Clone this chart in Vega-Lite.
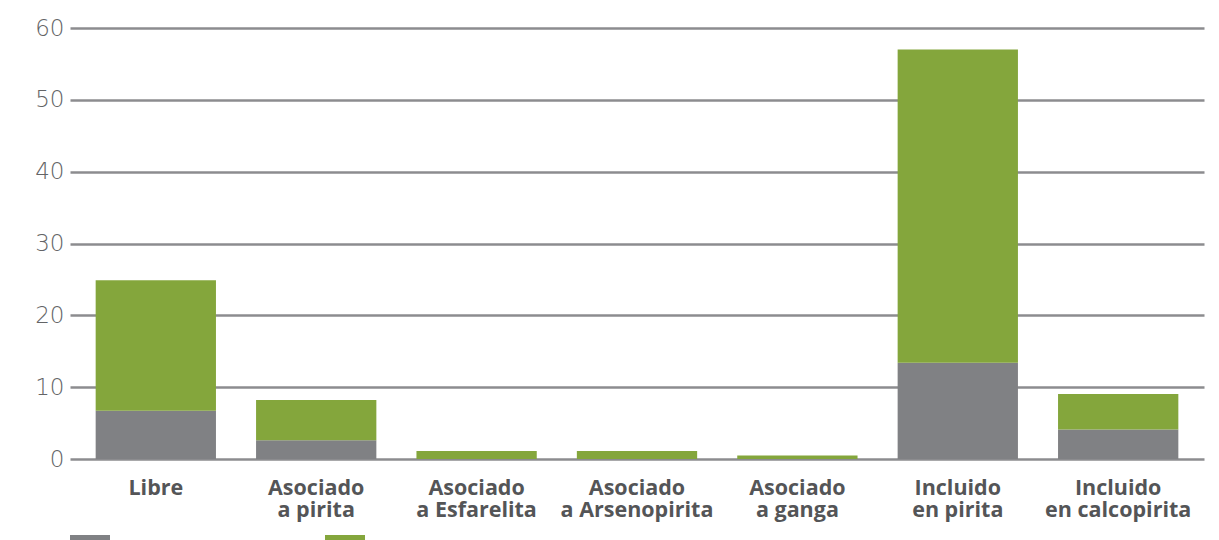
{
  "$schema": "https://vega.github.io/schema/vega-lite/v6.json",
  "autosize": "none",
  "width": 1134,
  "height": 431,
  "padding": {"left": 70, "top": 28, "right": 15, "bottom": 81},
  "background": "white",
  "data": {
    "values": [
      {"categoria": "Libre", "serie": "Serie 1", "valor": 6.7},
      {"categoria": "Libre", "serie": "Serie 2", "valor": 18.2},
      {"categoria": "Asociado a pirita", "serie": "Serie 1", "valor": 2.6},
      {"categoria": "Asociado a pirita", "serie": "Serie 2", "valor": 5.6},
      {"categoria": "Asociado a Esfarelita", "serie": "Serie 1", "valor": 0},
      {"categoria": "Asociado a Esfarelita", "serie": "Serie 2", "valor": 1.1},
      {"categoria": "Asociado a Arsenopirita", "serie": "Serie 1", "valor": 0},
      {"categoria": "Asociado a Arsenopirita", "serie": "Serie 2", "valor": 1.1},
      {"categoria": "Asociado a ganga", "serie": "Serie 1", "valor": 0},
      {"categoria": "Asociado a ganga", "serie": "Serie 2", "valor": 0.5},
      {"categoria": "Incluido en pirita", "serie": "Serie 1", "valor": 13.4},
      {"categoria": "Incluido en pirita", "serie": "Serie 2", "valor": 43.6},
      {"categoria": "Incluido en calcopirita", "serie": "Serie 1", "valor": 4.1},
      {"categoria": "Incluido en calcopirita", "serie": "Serie 2", "valor": 4.95}
    ]
  },
  "mark": {"type": "bar"},
  "encoding": {
    "x": {
      "field": "categoria",
      "type": "nominal",
      "sort": null,
      "scale": {"paddingInner": 0.25, "paddingOuter": 0.16},
      "axis": {
        "title": null,
        "labelAngle": 0,
        "domain": false,
        "ticks": false,
        "grid": false,
        "labelPadding": 18,
        "labelFont": "Open Sans",
        "labelFontWeight": "bold",
        "labelFontSize": 21.5,
        "labelColor": "#545557",
        "labelLineHeight": 22,
        "labelLimit": 300,
        "labelExpr": "indexof(datum.label, ' ') > 0 ? [substring(datum.label, 0, indexof(datum.label, ' ')), substring(datum.label, indexof(datum.label, ' ') + 1)] : datum.label"
      }
    },
    "y": {
      "field": "valor",
      "type": "quantitative",
      "aggregate": "sum",
      "stack": "zero",
      "scale": {"domain": [0, 60], "nice": false},
      "axis": {
        "title": null,
        "values": [0, 10, 20, 30, 40, 50, 60],
        "domain": false,
        "ticks": false,
        "labelPadding": 6,
        "labelFont": "DejaVu Sans",
        "labelFontWeight": 200,
        "labelFontSize": 23,
        "labelColor": "#636466",
        "gridColor": "#8c8c8f",
        "gridWidth": 2.5,
        "gridOpacity": 1
      }
    },
    "color": {
      "field": "serie",
      "type": "nominal",
      "scale": {"domain": ["Serie 1", "Serie 2"], "range": ["#808184", "#84a63c"]},
      "legend": {
        "title": null,
        "orient": "none",
        "direction": "horizontal",
        "legendX": 0,
        "legendY": 492,
        "symbolType": "M-1,-0.25H1V0.25H-1Z",
        "symbolSize": 1600,
        "symbolOpacity": 1,
        "symbolStrokeWidth": 0,
        "labelFont": "Open Sans",
        "labelFontSize": 14,
        "labelColor": "#58595b",
        "labelBaseline": "top",
        "labelOffset": 8,
        "columnPadding": 162
      }
    },
    "order": {"field": "serie", "sort": "ascending"}
  },
  "config": {"view": {"stroke": null}, "axis": {"gridCap": "butt"}}
}
